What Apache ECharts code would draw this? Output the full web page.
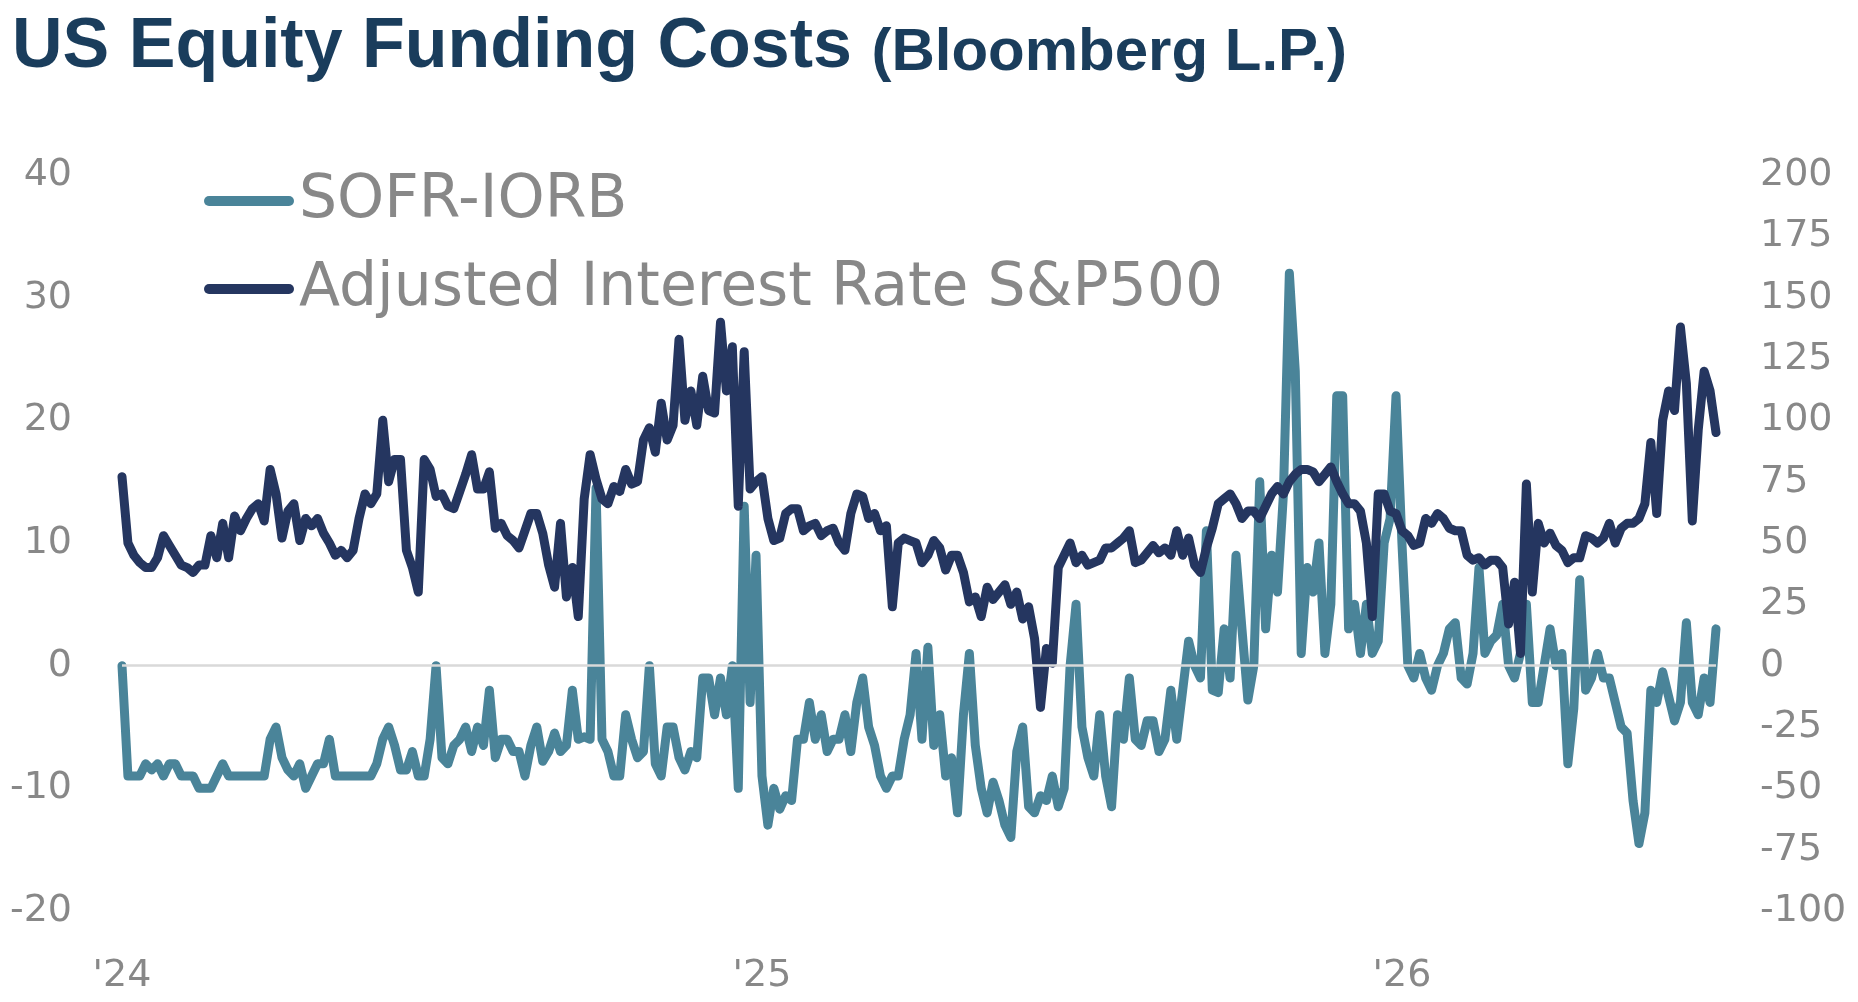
<!DOCTYPE html>
<html>
<head>
<meta charset="utf-8">
<script src="https://cdn.jsdelivr.net/npm/echarts@6/dist/echarts.min.js"></script>
<style>
html,body{margin:0;padding:0;background:#ffffff;}
#chart{width:1858px;height:1002px;}
</style>
</head>
<body>
<div id="chart"></div>
<script>
// Tick labels for the x axis (one label at the start of each year)
const yearLabels = ["'24", "'25", "'26"];
const pointsPerYear = 108;

// SOFR-IORB (bp, left axis)
const sofrIorb = [
  0,-9,-9,-9,-8,-8.5,-8,-9,-8,-8,
  -9,-9,-9,-10,-10,-10,-9,-8,-9,-9,
  -9,-9,-9,-9,-9,-6,-5,-7.5,-8.5,-9,
  -8,-10,-9,-8,-8,-6,-9,-9,-9,-9,
  -9,-9,-9,-8,-6,-5,-6.5,-8.5,-8.5,-7,
  -9,-9,-6,0,-7.5,-8,-6.5,-6,-5,-7,
  -5,-6.5,-2,-7.5,-6,-6,-7,-7,-9,-6.5,
  -5,-7.8,-7,-5.5,-7,-6.5,-2,-6,-5.8,-6,
  14.5,-6,-7,-9,-9,-4,-6,-7.5,-7,0,
  -8,-9,-5,-5,-7.5,-8.5,-7,-7.5,-1,-1,
  -4,-1,-4,0,-10,13,-3,9,-9,-13,
  -10,-11.7,-10.6,-11,-6,-6,-3,-6,-4,-7,
  -6,-6,-4,-7,-3,-1,-5,-6.5,-9,-10,
  -9,-9,-6,-4,1,-6,1.5,-6.5,-4,-9,
  -7.5,-12,-4,1,-6.5,-10,-12,-9.5,-11,-13,
  -14,-7,-5,-11.5,-12,-10.6,-11,-9,-11.5,-10,
  0,5,-5,-7.5,-9,-4,-9,-11.5,-4,-6,
  -1,-6,-6.5,-4.5,-4.5,-7,-6,-2,-6,-2,
  2,0,-1,11,-2,-2.2,3,-1,9,3,
  -2.8,0,15,3,9,6,14,32,24,1,
  8,6,10,1,5,22,22,3,5,1,
  5,1,2,10,12,22,10,0,-1,1,
  -1,-2,0,1,3,3.5,-1,-1.5,1,8,
  1,2,2.5,5,0,-1,1,5,-3,-3,
  0,3,0,1,-8,-3.5,7,-2,-1,1,
  -1,-1,-3,-5,-5.5,-11,-14.5,-12,-2,-3,
  -0.5,-2.5,-4.5,-3,3.5,-3,-4,-1,-3,3
];

// Adjusted Interest Rate S&P500 (bp, right axis)
const adjRate = [
  77,50,45,42,40,40,44,53,49,45,
  41,40,38,41,41,53,44,58,44,61,
  55,60,64,66,59,80,70,52,63,66,
  51,60,57,60,54,50,45,47,44,47,
  60,70,66,70,100,75,84,84,47,40,
  30,84,80,69,70,65,64,71,78,86,
  72,72,79,56,58,53,51,48,55,62,
  62,54,41,32,58,28,40,20,68,86,
  76,68,66,73,71,80,74,75,92,97,
  87,107,92,98,133,100,112,98,118,104,
  103,140,112,130,65,128,72,75,77,60,
  51,52,62,64,64,55,57,58,53,55,
  56,50,47,62,70,69,60,62,55,57,
  24,50,52,51,50,42,45,51,48,39,
  45,45,38,26,28,20,32,27,30,33,
  25,30,19,24,11,-17,7,1,40,45,
  50,42,45,41,42,43,48,48,50,52,
  55,42,43,46,49,46,48,45,55,45,
  52,41,38,48,56,66,68,70,66,60,
  63,63,60,65,70,73,70,75,78,80,
  80,79,75,78,81,75,70,66,66,63,
  50,20,70,70,63,62,55,53,49,50,
  60,58,62,60,56,55,55,45,43,44,
  41,43,43,40,17,34,5,74,30,58,
  50,54,49,47,42,44,44,53,52,50,
  52,58,50,56,58,58,60,66,91,62,
  100,112,104,138,115,59,96,120,112,95
];

const seriesNames = ['SOFR-IORB', 'Adjusted Interest Rate S&P500'];
const leftAxisRange = { min: -20, max: 40, interval: 10 };
const rightAxisRange = { min: -100, max: 200, interval: 25 };

const categories = sofrIorb.map((_, i) => 'p' + i);

const TEAL = '#4a8499';
const NAVY = '#253660';
const GREY = '#888888';
const labelFont = { fontFamily: 'DejaVu Sans', fontSize: 38, color: GREY };

const chart = echarts.init(document.getElementById('chart'), null, { renderer: 'canvas' });

chart.setOption({
  backgroundColor: '#ffffff',
  animation: false,
  title: {
    left: 12,
    top: 13,
    padding: 0,
    text: '{a|US Equity Funding Costs }{b|(Bloomberg L.P.)}',
    textStyle: {
      rich: {
        a: { fontFamily: 'Liberation Sans', fontWeight: 'bold', fontSize: 70, lineHeight: 70, color: '#1a3d5c', verticalAlign: 'bottom' },
        b: { fontFamily: 'Liberation Sans', fontWeight: 'bold', fontSize: 60, lineHeight: 60, color: '#1a3d5c', verticalAlign: 'bottom' }
      }
    }
  },
  legend: {
    orient: 'vertical',
    left: 204,
    top: 171,
    padding: 0,
    itemWidth: 90,
    itemHeight: 10,
    itemGap: 28,
    selectedMode: false,
    icon: 'path://M5,0H85A5,5,0,0,1,85,10H5A5,5,0,0,1,5,0Z',
    itemStyle: { borderWidth: 0 },
    data: seriesNames,
    textStyle: { fontFamily: 'DejaVu Sans', fontSize: 60, lineHeight: 60, color: GREY }
  },
  grid: { left: 122, right: 142, top: 175, bottom: 91, containLabel: false },
  xAxis: {
    type: 'category',
    data: categories,
    boundaryGap: false,
    axisLine: { show: false },
    axisTick: { show: false },
    splitLine: { show: false },
    axisLabel: Object.assign({
      margin: 46,
      interval: (i) => i % pointsPerYear === 0,
      formatter: (v, i) => (i % pointsPerYear === 0 ? yearLabels[i / pointsPerYear] : '')
    }, labelFont)
  },
  yAxis: [
    {
      type: 'value',
      position: 'left',
      min: leftAxisRange.min, max: leftAxisRange.max, interval: leftAxisRange.interval,
      axisLine: { show: false }, axisTick: { show: false }, splitLine: { show: false },
      axisLabel: Object.assign({ margin: 50 }, labelFont)
    },
    {
      type: 'value',
      position: 'right',
      min: rightAxisRange.min, max: rightAxisRange.max, interval: rightAxisRange.interval,
      axisLine: { show: false }, axisTick: { show: false }, splitLine: { show: false },
      axisLabel: Object.assign({ margin: 44 }, labelFont)
    }
  ],
  series: [
    {
      type: 'line',
      yAxisIndex: 0,
      data: sofrIorb.map(() => null),
      silent: true,
      z: 1,
      markLine: {
        silent: true,
        symbol: ['none', 'none'],
        label: { show: false },
        lineStyle: { color: '#d9d9d9', width: 2.5, type: 'solid' },
        emphasis: { disabled: true },
        data: [{ yAxis: 0 }]
      }
    },
    {
      name: seriesNames[0],
      type: 'line',
      yAxisIndex: 0,
      data: sofrIorb,
      showSymbol: false,
      symbol: 'none',
      z: 3,
      color: TEAL,
      lineStyle: { color: TEAL, width: 9, cap: 'round', join: 'round' },
      emphasis: { disabled: true }
    },
    {
      name: seriesNames[1],
      type: 'line',
      yAxisIndex: 1,
      data: adjRate,
      showSymbol: false,
      symbol: 'none',
      z: 4,
      color: NAVY,
      lineStyle: { color: NAVY, width: 9, cap: 'round', join: 'round' },
      emphasis: { disabled: true }
    }
  ]
});
</script>
</body>
</html>
